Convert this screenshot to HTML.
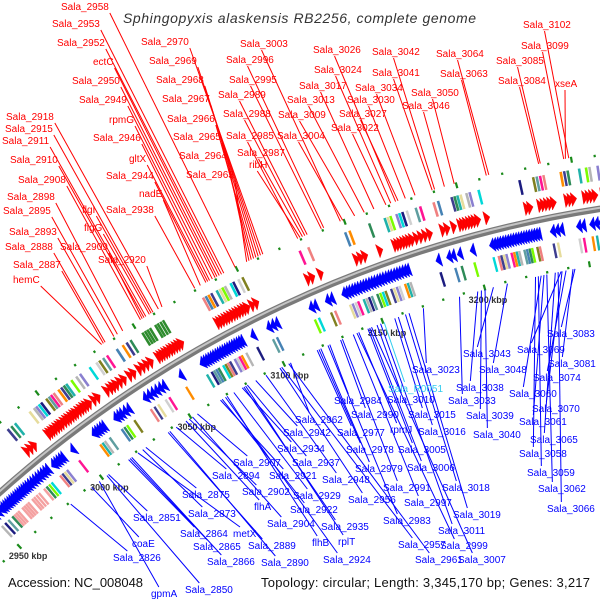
<!DOCTYPE html>
<html><head><meta charset="utf-8">
<style>
html,body{margin:0;padding:0;background:#fff;}
svg{display:block;font-family:"Liberation Sans",sans-serif;}
</style></head>
<body>
<svg id="map" width="600" height="600" viewBox="0 0 600 600" xmlns="http://www.w3.org/2000/svg">
<rect width="600" height="600" fill="#fff"/>
<g id="ticks"></g>
<g id="cogs"></g>
<g id="genes"></g>
<g id="backbone"></g>
<g id="leaders"></g>
<g id="labels"></g>
<text x="123" y="23" font-size="14" font-style="italic" fill="#333" textLength="353" lengthAdjust="spacing">Sphingopyxis alaskensis RB2256, complete genome</text>
<text x="8" y="587" font-size="13" fill="#111" textLength="135" lengthAdjust="spacing">Accession: NC_008048</text>
<text x="261" y="587" font-size="13" fill="#111" textLength="329" lengthAdjust="spacing">Topology: circular; Length: 3,345,170 bp; Genes: 3,217</text>
</svg>
<script>
// ---- data ----
const tickKbp = [2950, 3000, 3050, 3100, 3150, 3200];
const fwdStart = [2980,2982,2984,2992,2993.2,2994.4,2995.6,2997,2998.3,2999.5,3001,3002.4,3003.6,3005,3006.3,3007.5,3009,3010.4,3011.7,3013,3014.4,3017,3019,3024,3026,3027.5,3029,3031,3033,3036,3038,3041,3043,3045,3047,3051,3052.3,3053.5,3054.8,3056,3057.4,3058.6,3060,3061.3,3062.6,3081,3082.3,3083.6,3085,3086.3,3087.6,3089,3090.3,3091.6,3093,3094.3,3095.6,3098,3100,3125,3127,3131,3148,3150,3152,3159,3166,3167.3,3168.6,3170,3171.3,3172.6,3174,3176,3178,3180,3182,3188,3190,3193,3196,3197.3,3198.6,3200,3201.3,3202.6,3204,3208,3226,3227.5,3232,3233.5,3235,3236.5,3238,3244,3245.5,3247,3252,3253.5,3255,3256.5,3260,3262,3264,3266,3268,3270,3272];
const revStart = [2950,2952,2954,2955.2,2956.4,2957.6,2958.8,2960,2961.2,2962.4,2963.6,2964.8,2966,2967.2,2968.4,2969.6,2971,2972.5,2974,2975.5,2977,2978.5,2980,2981.5,2985,2986.3,2987.6,2989,2990.3,2996,3008,3009.3,3010.6,3012,3013.3,3020,3021.5,3023,3025,3027,3036,3038,3040,3042,3044,3046,3055,3066,3067.2,3068.4,3069.6,3070.8,3072,3073.2,3074.4,3075.6,3076.8,3078,3079.2,3080.4,3081.6,3082.8,3084,3085.2,3086.4,3092,3100,3102,3104,3121,3123,3129,3131,3137,3138.3,3139.6,3141,3142.3,3143.6,3145,3146.3,3147.6,3149,3150.3,3151.6,3153,3154.3,3155.6,3157,3158.3,3159.6,3161,3162.3,3163.6,3165,3166.3,3167.6,3182,3187,3189,3192,3198,3207,3208.2,3209.4,3210.6,3211.8,3213,3214.2,3215.4,3216.6,3217.8,3219,3220.2,3221.4,3222.6,3223.8,3225,3226.2,3227.4,3228.6,3235,3237,3239,3247,3249,3253,3255,3257];
const redGenes = ["Sala_2958","Sala_2953","Sala_2952","ectC","Sala_2950","Sala_2949","rpmG","Sala_2946","gltX","Sala_2944","nadE","Sala_2938","Sala_2970","Sala_2969","Sala_2968","Sala_2967","Sala_2966","Sala_2965","Sala_2964","Sala_2963","Sala_2918","Sala_2915","Sala_2911","Sala_2910","Sala_2908","Sala_2898","Sala_2895","flgI","flgG","Sala_2893","Sala_2888","Sala_2909","Sala_2920","Sala_2887","hemC","Sala_3003","Sala_2996","Sala_2995","Sala_2989","Sala_2988","Sala_2985","Sala_2987","ribH","Sala_3026","Sala_3024","Sala_3017","Sala_3013","Sala_3009","Sala_3004","Sala_3027","Sala_3022","Sala_3034","Sala_3030","Sala_3042","Sala_3041","Sala_3050","Sala_3046","Sala_3064","Sala_3063","Sala_3102","Sala_3099","Sala_3085","Sala_3084","xseA"];
const redGeneNum = [2958,2953,2952,2951,2950,2949,2947.5,2946,2945,2944,2941,2938,2970,2969,2968,2967,2966,2965,2964,2963,2918,2915,2911,2910,2908,2898,2895,2914,2913,2893,2888,2909,2920,2887,2886,3003,2996,2995,2989,2988,2985,2987,2986,3026,3024,3017,3013,3009,3004,3027,3022,3034,3030,3042,3041,3050,3046,3064,3063,3102,3099,3085,3084,3100];
const blueGenes = ["Sala_2826","coaE","Sala_2851","gpmA","Sala_2850","Sala_2875","Sala_2873","Sala_2864","metX","Sala_2865","Sala_2866","Sala_2889","Sala_2890","Sala_2894","Sala_2907","Sala_2902","flhA","Sala_2904","Sala_2921","Sala_2922","Sala_2929","Sala_2934","Sala_2937","Sala_2942","Sala_2962","Sala_2948","Sala_2935","flhB","rplT","Sala_2924","Sala_2956","Sala_2984","Sala_2990","Sala_2977","Sala_2978","Sala_2979","Sala_2991","Sala_2997","Sala_2983","Sala_2957","Sala_2961","Sala_2999","Sala_3007","Sala_3011","Sala_3019","Sala_3018","Sala_3006","Sala_3005","Sala_3016","rpmJ","Sala_3015","Sala_3010","Sala_R0051","Sala_3023","Sala_3043","Sala_3048","Sala_3038","Sala_3033","Sala_3039","Sala_3040","Sala_3083","Sala_3069","Sala_3081","Sala_3074","Sala_3060","Sala_3070","Sala_3061","Sala_3065","Sala_3058","Sala_3059","Sala_3062","Sala_3066"];
const blueGeneNum = [2826,2840,2851,2845,2850,2875,2873,2864,2870,2865,2866,2889,2890,2894,2907,2902,2900,2904,2921,2922,2929,2934,2937,2942,2962,2948,2935,2925,2936,2924,2956,2984,2990,2977,2978,2979,2991,2997,2983,2957,2961,2999,3007,3011,3019,3018,3006,3005,3016,3000,3015,3010,3012,3023,3043,3048,3038,3033,3039,3040,3083,3069,3081,3074,3060,3070,3061,3065,3058,3059,3062,3066];
// gene-number -> genome position anchors (kbp), per strand
const redAnchorGene = [2826, 2950, 3084, 3102];
const redAnchorKbp = [2981, 3091, 3236, 3249];
const blueAnchorGene = [2826, 2950, 3010, 3040, 3066, 3083];
const blueAnchorKbp = [2981, 3092, 3147, 3200, 3235, 3243];

// ---- layout (label placement, not data) ----
const redLabelXY = [[61,10],[52,27],[57,46],[93,65],[72,84],[79,103],[109,123],[93,141],[129,162],[106,179],[139,197],[106,213],[141,45],[149,64],[156,83],[162,102],[167,122],[173,140],[179,159],[186,178],[6,120],[5,132],[2,144],[10,163],[18,183],[7,200],[3,214],[82,213],[84,231],[9,235],[5,250],[60,250],[98,263],[13,268],[13,283],[240,47],[226,63],[229,83],[218,98],[223,117],[226,139],[237,156],[249,168],[313,53],[314,73],[299,89],[287,103],[278,118],[277,139],[339,117],[331,131],[355,91],[347,103],[372,55],[372,76],[411,96],[402,109],[436,57],[440,77],[523,28],[521,49],[496,64],[498,84],[555,87]];
const blueLabelXY = [[113,561],[132,547],[133,521],[151,597],[185,593],[182,498],[188,517],[180,537],[233,537],[193,550],[207,565],[248,549],[261,566],[212,479],[233,466],[242,495],[254,510],[267,527],[269,479],[290,513],[293,499],[277,452],[292,466],[283,436],[295,423],[322,483],[321,530],[312,546],[338,545],[323,563],[348,503],[334,404],[351,418],[337,436],[346,453],[355,472],[383,491],[404,506],[383,524],[398,548],[415,563],[440,549],[458,563],[438,534],[453,518],[442,491],[407,471],[398,453],[418,435],[390,433],[408,418],[387,403],[388,392],[412,373],[463,357],[479,373],[456,391],[448,404],[466,419],[473,438],[547,337],[517,353],[548,367],[533,381],[509,397],[532,412],[519,425],[530,443],[519,457],[527,476],[538,492],[547,512]];

const CX = 779, CY = 1364, R_ARC = 1169;
const NS = "http://www.w3.org/2000/svg";
function ang(kbp){ return (-42.9 + (kbp - 2950) * 0.1104) * Math.PI / 180; }
function pt(kbp, r){ const a = ang(kbp); return [CX + r * Math.sin(a), CY - r * Math.cos(a)]; }
function interp(n, ag, ak){
  let i = 0;
  while (i < ag.length - 2 && n > ag[i + 1]) i++;
  return ak[i] + (n - ag[i]) * (ak[i + 1] - ak[i]) / (ag[i + 1] - ag[i]);
}
function mk(tag, attrs, parent){ const e = document.createElementNS(NS, tag); for (const k in attrs) e.setAttribute(k, attrs[k]); parent.appendChild(e); return e; }
function poly(pts){ return pts.map(p => p[0].toFixed(1) + "," + p[1].toFixed(1)).join(" "); }

const palette = ["#3d3d8f","#00d8d8","#4682b4","#b5b5b5","#ff1493","#e6dc9c","#808020","#2e8b57","#1c1c80","#ff8c00","#8a7fd0","#f08080","#7cfc00","#5f9ea0","#20b2aa","#d0d0d0"];

// backbone
const bb = document.getElementById("backbone");
const a0 = pt(2935, R_ARC), a1 = pt(3290, R_ARC);
const arc1 = mk("path", {d: `M${a0[0]},${a0[1]} A${R_ARC},${R_ARC} 0 0 1 ${a1[0]},${a1[1]}`, fill: "none", stroke: "#7a7a7a", "stroke-width": 6.5}, bb);


const b0 = pt(2935, R_ARC + 1), b1 = pt(3290, R_ARC + 1);
const arc2 = mk("path", {d: `M${b0[0]},${b0[1]} A${R_ARC+1},${R_ARC+1} 0 0 1 ${b1[0]},${b1[1]}`, fill: "none", stroke: "#c4c4c4", "stroke-width": 2}, bb);



// ticks
const tg = document.getElementById("ticks");
for (let k = 2940; k <= 3280; k += 10) {
  [1222, 1116].forEach(r => {
    const big = (k % 50 === 0);
    const p0 = pt(k, r - (big ? 3 : 1.2)), p1 = pt(k, r + (big ? 3 : 1.2));
    const ln = mk("line", {x1: p0[0], y1: p0[1], x2: p1[0], y2: p1[1], stroke: "#1a8a1a", "stroke-width": 2.2}, tg);
    
    
  });
}
tickKbp.forEach(k => {
  const p = pt(k, 1103);
  const t = mk("text", {x: p[0], y: p[1] + 3, "font-size": 9, fill: "#333", "text-anchor": "middle", "font-weight": "bold"}, tg);
  t.textContent = k + " kbp";
  
  
});

// genes
const gg = document.getElementById("genes");
const cg = document.getElementById("cogs");
const GL = 2.4;
fwdStart.forEach((s, i) => {
  const e = s + GL;
  const p = mk("polygon", {points: poly([pt(s, 1176), pt(s, 1190), pt(e, 1183)]), fill: "#ff0000", stroke: "#ee0000", "stroke-width": 0.4}, gg);
  
  
  if (i % 5 !== 4) {
    let col = palette[(i * 7) % palette.length];
    if (s >= 3050 && s <= 3064) col = "#2e8b2e";
    const c = mk("polygon", {points: poly([pt(s, 1197), pt(s + 1.1, 1197), pt(s + 1.1, 1212), pt(s, 1212)]), fill: col}, cg);
    
    
  }
});
revStart.forEach((s, i) => {
  const e = s + GL;
  const p = mk("polygon", {points: poly([pt(e, 1148), pt(e, 1162), pt(s, 1155)]), fill: "#0000ff", stroke: "#0000ee", "stroke-width": 0.4}, gg);
  
  
  if (i % 5 !== 3) {
    let col = palette[(i * 5 + 3) % palette.length];
    if (s >= 2957 && s <= 2976) col = "#f4a0a0";
    const c = mk("polygon", {points: poly([pt(s, 1128), pt(s + 1.1, 1128), pt(s + 1.1, 1143), pt(s, 1143)]), fill: col}, cg);
    
    
  }
});

// labels + leaders
const lg = document.getElementById("labels");
const ldg = document.getElementById("leaders");
redGenes.forEach((name, i) => {
  const [x, y] = redLabelXY[i];
  const t = mk("text", {x: x, y: y, "font-size": 10, fill: "#ff0000"}, lg);
  t.textContent = name;
  
  
  const w = t.getComputedTextLength ? t.getComputedTextLength() : name.length * 5.5;
  const end = pt(interp(redGeneNum[i], redAnchorGene, redAnchorKbp), 1224);
  const sx = x < 200 ? x + w + 1 : x + w * 0.45;
  const l = mk("line", {x1: sx, y1: y + 3, x2: end[0], y2: end[1], stroke: "#ff0000", "stroke-width": 1}, ldg);
  
  
});
blueGenes.forEach((name, i) => {
  const [x, y] = blueLabelXY[i];
  const col = name === "Sala_R0051" ? "#33ccee" : "#0000ff";
  const t = mk("text", {x: x, y: y, "font-size": 10, fill: col}, lg);
  t.textContent = name;
  
  
  const w = t.getComputedTextLength ? t.getComputedTextLength() : name.length * 5.5;
  const end = pt(interp(blueGeneNum[i], blueAnchorGene, blueAnchorKbp), 1114);
  const l = mk("line", {x1: x + w * 0.3, y1: y - 10, x2: end[0], y2: end[1], stroke: col, "stroke-width": 1}, ldg);
  
  
});
</script>
</body></html>
